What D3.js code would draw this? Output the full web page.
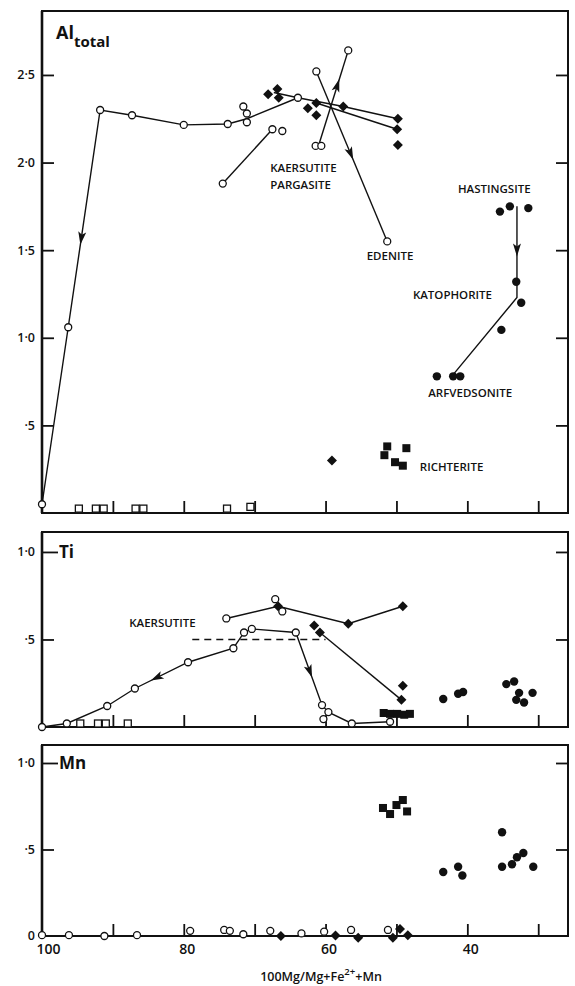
<!DOCTYPE html>
<html>
<head>
<meta charset="utf-8">
<script src="https://cdn.jsdelivr.net/npm/d3@7"></script>
<style>
  body { margin: 0; background: #fff; }
  text { font-family: "Open Sans", "DejaVu Sans", sans-serif; fill: #111; }
</style>
</head>
<body>
<div id="chart"></div>
<script>
// x = 100Mg/(Mg+Fe2+ +Mn)
const xTicks = [100, 90, 80, 70, 60, 50, 40, 30];
const xTickLabels = [100, 80, 60, 40];

// Al total panel
const alTicks = [0.5, 1.0, 1.5, 2.0, 2.5];
const alOpenCircles = [[100,0.05],[96.3,1.06],[91.8,2.3],[87.3,2.27],[80,2.215],[73.8,2.22],[71.1,2.28],[71.1,2.23],
  [71.6,2.32],[63.9,2.37],[74.5,1.88],[67.5,2.19],[66.1,2.18],[61.3,2.52],[56.8,2.64],[61.4,2.095],[60.6,2.095],[51.3,1.55]];
const alDiamonds = [[68.1,2.39],[66.8,2.42],[66.6,2.37],[62.5,2.31],[61.3,2.34],[61.3,2.27],[57.5,2.32],
  [49.8,2.25],[49.9,2.19],[49.8,2.10],[59.1,0.30]];
const alFilledCircles = [[35.4,1.72],[34.0,1.75],[31.4,1.74],[33.1,1.32],[32.4,1.20],[35.2,1.045],[44.3,0.78],[42.0,0.78],[41.0,0.78]];
const alSquares = [[51.3,0.38],[51.7,0.33],[48.6,0.37],[50.2,0.29],[49.1,0.27]];
const alOpenSquares = [[94.8,0.025],[92.4,0.025],[91.3,0.025],[86.8,0.025],[85.7,0.025],[73.9,0.025],[70.6,0.035]];
const alLines = [
  [[63.9,2.37],[71.1,2.25],[73.8,2.22],[80,2.215],[87.3,2.27],[91.8,2.3],[96.3,1.06],[100,0.05]],
  [[67.3,2.4],[63.9,2.37],[57.5,2.32],[49.8,2.25]],
  [[61.3,2.34],[49.9,2.19]],
  [[74.5,1.88],[67.5,2.19]],
  [[61.0,2.095],[56.8,2.64]],
  [[61.3,2.52],[51.3,1.55]],
  [[33.0,1.75],[33.0,1.23],[42.0,0.79]]
];
const alArrows = [
  {from: [91.8,2.3], to: [96.3,1.06], t: 0.62},
  {from: [61.0,2.095], to: [56.8,2.64], t: 0.7},
  {from: [61.3,2.52], to: [51.3,1.55], t: 0.52},
  {from: [33.0,1.75], to: [33.0,1.23], t: 0.55}
];
const alLabels = [
  {text: "KAERSUTITE", at: [67.8,1.968], anchor: "start"},
  {text: "PARGASITE", at: [67.8,1.874], anchor: "start"},
  {text: "EDENITE", at: [50.9,1.467], anchor: "middle"},
  {text: "HASTINGSITE", at: [36.2,1.85], anchor: "middle"},
  {text: "KATOPHORITE", at: [42.1,1.244], anchor: "middle"},
  {text: "ARFVEDSONITE", at: [39.6,0.685], anchor: "middle"},
  {text: "RICHTERITE", at: [46.7,0.263], anchor: "start"}
];

// Ti panel
const tiTicks = [0.5, 1.0];
const tiOpenCircles = [[100,0],[96.5,0.02],[90.8,0.12],[86.9,0.22],[79.4,0.37],[73.0,0.45],[71.5,0.54],[70.4,0.56],
  [64.2,0.54],[60.5,0.125],[59.6,0.085],[60.3,0.045],[56.3,0.02],[50.9,0.03],[74.0,0.62],[67.1,0.73],[66.1,0.66]];
const tiDiamonds = [[66.7,0.69],[56.8,0.59],[49.1,0.69],[61.6,0.58],[60.8,0.54],[49.3,0.155],[49.1,0.235]];
const tiSquares = [[51.8,0.08],[50.9,0.075],[49.9,0.075],[48.9,0.07],[48.1,0.075]];
const tiFilledCircles = [[43.4,0.16],[41.3,0.19],[40.6,0.20],[34.5,0.245],[33.4,0.26],[32.7,0.195],[33.1,0.155],[32.0,0.14],[30.8,0.195]];
const tiOpenSquares = [[94.6,0.02],[92.1,0.02],[91.0,0.02],[87.9,0.02]];
const tiLines = [
  [[100,0],[96.5,0.02],[90.8,0.12],[86.9,0.22],[79.4,0.37],[73.0,0.45],[71.5,0.54],[70.4,0.56],[64.2,0.54],
   [60.5,0.125],[59.6,0.085],[56.3,0.02],[50.9,0.03]],
  [[74.0,0.62],[66.7,0.69],[56.8,0.59],[49.1,0.69]],
  [[60.8,0.54],[49.3,0.155]]
];
const tiDashed = [[78.8,0.5],[60,0.5]];
const tiArrows = [
  {from: [79.4,0.37], to: [86.9,0.22], t: 0.7},
  {from: [64.2,0.54], to: [60.5,0.125], t: 0.62}
];
const tiLabels = [{text: "KAERSUTITE", at: [83.0,0.594], anchor: "middle"}];

// Mn panel
const mnTicks = [0.5, 1.0];
const mnSquares = [[51.9,0.74],[50.9,0.705],[50.0,0.757],[49.1,0.786],[48.5,0.72]];
const mnFilledCircles = [[43.4,0.37],[41.3,0.40],[40.7,0.35],[35.1,0.60],[35.1,0.40],[33.7,0.415],[33.0,0.455],[32.1,0.48],[30.7,0.40]];
const mnOpenCircles = [[100,0.005],[96.2,0.005],[91.2,0.0],[86.6,0.005],[79.1,0.03],[74.3,0.035],[73.5,0.03],[71.6,0.01],
  [67.8,0.03],[63.4,0.015],[60.2,0.025],[56.4,0.035],[51.2,0.035]];
const mnDiamonds = [[66.3,0],[58.6,0.003],[55.4,-0.01],[50.5,-0.01],[49.5,0.04],[48.4,0.005]];

const width = 575, height = 986;
const left = 42, right = 568;

const svg = d3.select("#chart").append("svg")
  .attr("width", width)
  .attr("height", height);

const x = d3.scaleLinear().domain([100, 25.8]).range([left, right]);
const fmt = d => d === 0 ? "0" : (d < 1 ? "·" + String(d).split(".")[1] : d.toFixed(1).replace(".", "·"));

function drawPanel(p) {
  const y = d3.scaleLinear().domain(p.domain).range([p.bottom, p.top]);
  const g = svg.append("g");

  // frame
  g.append("rect")
    .attr("x", left).attr("y", p.top)
    .attr("width", right - left).attr("height", p.bottom - p.top)
    .attr("fill", "none").attr("stroke", "#111").attr("stroke-width", 2);
  g.append("line")
    .attr("x1", left).attr("x2", left).attr("y1", p.top).attr("y2", p.bottom)
    .attr("stroke", "#111").attr("stroke-width", 2.6);

  const yl = g.append("g").attr("transform", `translate(${left},0)`)
    .call(d3.axisLeft(y).tickValues(p.ticks).tickSize(-12).tickPadding(7).tickFormat(fmt));
  const yr = g.append("g").attr("transform", `translate(${right},0)`)
    .call(d3.axisRight(y).tickValues(p.ticks).tickSize(-12).tickFormat(""));
  const xb = g.append("g").attr("transform", `translate(0,${p.bottom})`)
    .call(d3.axisBottom(x).tickValues(xTicks.slice(1)).tickSize(-12).tickFormat(""));
  [yl, yr, xb].forEach(a => {
    a.select(".domain").remove();
    a.selectAll(".tick line").attr("stroke", "#111").attr("stroke-width", 1.8);
    a.selectAll("text").style("font-size", "12.5px").style("font-family", '"Open Sans", sans-serif')
      .attr("fill", "#111").style("font-weight", 600);
  });
  if (p.longTop) {
    yl.selectAll(".tick line").filter(d => d === 1).attr("x2", 16);
  }

  const line = d3.line().x(d => x(d[0])).y(d => y(d[1]));
  (p.lines || []).forEach(l => {
    g.append("path").attr("d", line(l))
      .attr("fill", "none").attr("stroke", "#111").attr("stroke-width", 1.4);
  });
  if (p.dashed) {
    g.append("path").attr("d", line(p.dashed))
      .attr("fill", "none").attr("stroke", "#111").attr("stroke-width", 1.6)
      .attr("stroke-dasharray", "7,5");
  }

  (p.arrows || []).forEach(a => {
    const x0 = x(a.from[0]), y0 = y(a.from[1]), x1 = x(a.to[0]), y1 = y(a.to[1]);
    const px = x0 + (x1 - x0) * a.t, py = y0 + (y1 - y0) * a.t;
    const ang = Math.atan2(y1 - y0, x1 - x0) * 180 / Math.PI;
    g.append("path")
      .attr("d", "M0,0L-13,-4L-10,0L-13,4Z")
      .attr("transform", `translate(${px},${py}) rotate(${ang})`)
      .attr("fill", "#111");
  });

  g.selectAll(".osq").data(p.openSquares || []).enter().append("rect")
    .attr("x", d => x(d[0]) - 3.5).attr("y", d => y(d[1]) - 3.5)
    .attr("width", 7).attr("height", 7)
    .attr("fill", "#fff").attr("stroke", "#111").attr("stroke-width", 1.3);

  g.selectAll(".sq").data(p.squares || []).enter().append("rect")
    .attr("x", d => x(d[0]) - 4).attr("y", d => y(d[1]) - 4)
    .attr("width", 8).attr("height", 8)
    .attr("fill", "#111");

  g.selectAll(".dia").data(p.diamonds || []).enter().append("path")
    .attr("d", "M0,-5L5,0L0,5L-5,0Z")
    .attr("transform", d => `translate(${x(d[0])},${y(d[1])})`)
    .attr("fill", "#111");

  g.selectAll(".fc").data(p.filledCircles || []).enter().append("circle")
    .attr("cx", d => x(d[0])).attr("cy", d => y(d[1])).attr("r", 4.2)
    .attr("fill", "#111");

  g.selectAll(".oc").data(p.openCircles || []).enter().append("circle")
    .attr("cx", d => x(d[0])).attr("cy", d => y(d[1])).attr("r", 3.5)
    .attr("fill", "#fff").attr("stroke", "#111").attr("stroke-width", 1.3);

  g.selectAll(".lab").data(p.labels || []).enter().append("text")
    .attr("x", d => x(d.at[0])).attr("y", d => y(d.at[1]))
    .attr("dy", "0.36em")
    .attr("text-anchor", d => d.anchor)
    .style("font-size", "11.5px").style("font-weight", 600)
    .text(d => d.text);

  return {g, y};
}

const alPanel = drawPanel({
  domain: [0, 2.865], top: 11, bottom: 513, ticks: alTicks,
  lines: alLines, arrows: alArrows, labels: alLabels,
  openCircles: alOpenCircles, diamonds: alDiamonds, filledCircles: alFilledCircles,
  squares: alSquares, openSquares: alOpenSquares
});
const alTitle = alPanel.g.append("text").attr("x", 56).attr("y", 39)
  .style("font-size", "18px").style("font-weight", 700);
alTitle.append("tspan").text("Al");
alTitle.append("tspan").attr("dy", 8).style("font-size", "15px").text("total");

const tiPanel = drawPanel({
  domain: [0, 1.114], top: 532, bottom: 727, ticks: tiTicks, longTop: true,
  lines: tiLines, dashed: tiDashed, arrows: tiArrows, labels: tiLabels,
  openCircles: tiOpenCircles, diamonds: tiDiamonds, filledCircles: tiFilledCircles,
  squares: tiSquares, openSquares: tiOpenSquares
});
tiPanel.g.append("text").attr("x", 59).attr("y", tiPanel.y(1)).attr("dy", "0.36em")
  .style("font-size", "17px").style("font-weight", 700).text("Ti");

const mnPanel = drawPanel({
  domain: [0, 1.104], top: 745, bottom: 936, ticks: mnTicks, longTop: true,
  openCircles: mnOpenCircles, diamonds: mnDiamonds, filledCircles: mnFilledCircles,
  squares: mnSquares
});
mnPanel.g.append("text").attr("x", 59).attr("y", mnPanel.y(1)).attr("dy", "0.36em")
  .style("font-size", "17px").style("font-weight", 700).text("Mn");
mnPanel.g.append("text").attr("x", left - 7).attr("y", mnPanel.y(0)).attr("dy", "0.32em")
  .attr("text-anchor", "end").style("font-size", "12.5px").style("font-weight", 600).text("0");

// x tick labels
svg.append("g").attr("transform", "translate(0,936)")
  .call(d3.axisBottom(x).tickValues(xTickLabels).tickSize(0).tickPadding(8))
  .call(a => a.select(".domain").remove())
  .selectAll("text")
  .style("font-size", "14px").style("font-family", '"Open Sans", sans-serif')
  .style("font-weight", 600).attr("fill", "#111")
  .attr("dx", d => d === 100 ? 6 : 3);

const xTitle = svg.append("text").attr("x", 321).attr("y", 981)
  .attr("text-anchor", "middle").style("font-size", "12.5px").style("font-weight", 600);
xTitle.append("tspan").text("100Mg/Mg+Fe");
xTitle.append("tspan").attr("dy", -6).style("font-size", "9.5px").text("2+");
xTitle.append("tspan").attr("dy", 6).text("+Mn");
</script>
</body>
</html>
